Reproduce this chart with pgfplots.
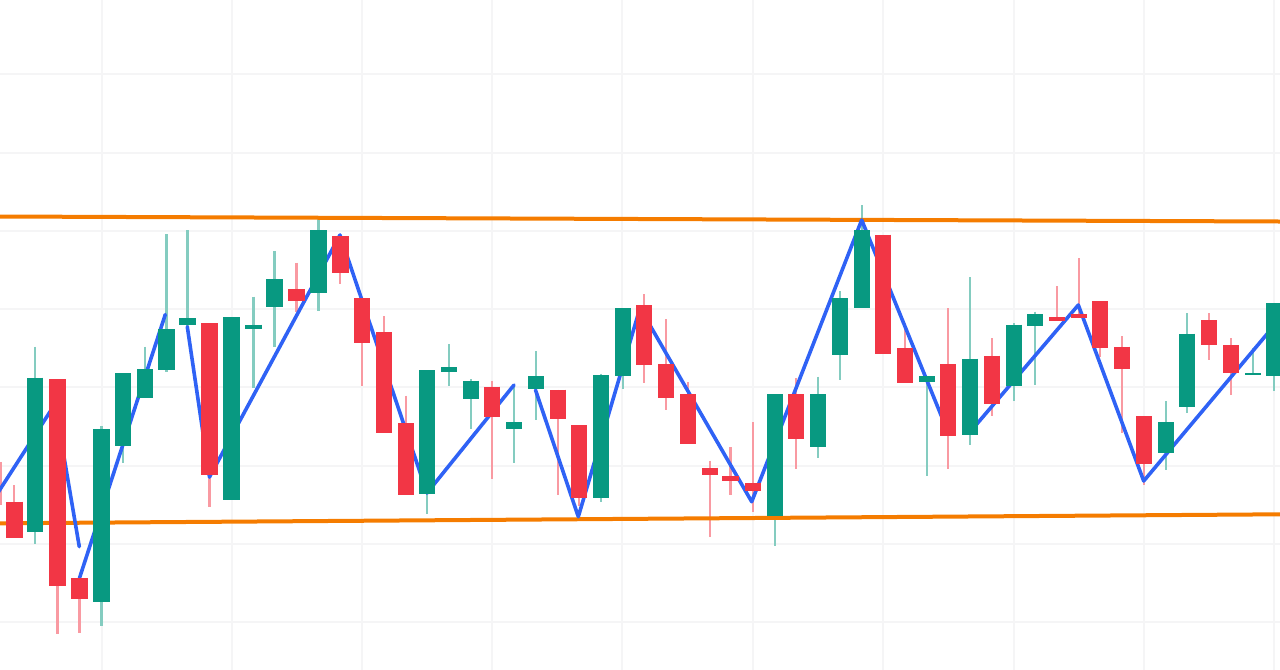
\documentclass[border=0pt]{standalone}
\usepackage{pgfplots}
\usepackage{pgfplotstable}
\pgfplotsset{compat=1.18}
\definecolor{cgreen}{HTML}{089981}
\definecolor{cred}{HTML}{F23645}
\definecolor{wgreen}{HTML}{84CCC0}
\definecolor{wred}{HTML}{F99AA2}
\definecolor{cblue}{HTML}{2F62F5}
\definecolor{corange}{HTML}{F57C00}
\definecolor{cgrid}{HTML}{F5F5F6}
% x, wick top, body top, body bottom, wick bottom (screen scale, y measured downwards)
\pgfplotstableread{
x wt bt bb wb
35.0 346.7 377.7 532.3 544.3
101.5 426.0 429.3 601.7 625.7
123.0 373.3 373.3 445.7 463.3
144.7 346.7 369.0 398.3 398.3
166.5 234.3 329.3 370.0 371.7
187.5 230.0 318.3 324.7 332.0
231.5 317.3 317.3 500.0 500.0
253.5 296.7 324.7 328.7 387.7
274.5 251.0 279.0 306.7 346.7
318.5 217.3 230.3 293.3 310.7
427.0 370.3 370.3 494.3 514.3
448.7 344.0 367.3 371.7 386.0
470.7 379.0 380.7 399.3 429.0
514.0 385.0 422.0 429.3 462.7
535.7 351.3 376.3 389.3 420.0
600.7 373.7 375.0 498.3 501.7
622.7 308.3 308.3 376.0 389.3
775.0 394.0 394.0 516.0 545.7
817.7 376.7 394.0 447.0 458.3
840.0 291.0 298.3 355.3 380.3
862.0 205.0 230.3 308.0 308.0
927.0 376.0 376.0 381.7 476.3
970.0 277.3 358.7 435.0 445.3
1014.0 323.3 324.7 386.0 401.3
1035.0 311.7 314.3 326.0 384.7
1166.0 401.3 422.3 452.7 470.3
1187.0 313.0 333.7 407.0 412.7
1253.0 348.3 373.3 374.7 374.7
1274.0 302.7 302.7 375.7 390.7
}\greentable
\pgfplotstableread{
x wt bt bb wb
0.5 462.0 480.0 480.0 505.0
14.3 485.0 501.7 538.3 538.3
57.5 379.3 379.3 585.7 634.3
79.5 578.3 578.3 599.0 632.7
209.5 323.3 323.3 475.0 507.3
296.5 262.7 289.3 300.7 312.3
340.3 236.0 236.0 272.7 284.3
361.7 298.0 298.0 343.3 386.0
383.7 316.0 332.0 433.3 433.3
405.7 395.7 423.3 495.3 495.3
492.0 380.7 386.7 417.3 479.3
557.7 389.7 389.7 419.0 495.3
579.0 425.0 425.0 498.3 505.7
644.0 294.0 305.3 365.3 383.3
666.0 319.0 364.3 398.3 410.0
688.0 382.3 394.0 443.7 443.7
710.0 460.7 467.7 475.0 536.7
730.5 447.3 476.3 480.7 495.3
753.0 422.0 482.7 491.0 511.7
795.7 378.3 394.0 439.3 468.7
883.0 234.7 234.7 353.7 353.7
905.0 323.3 348.3 383.3 383.3
948.0 308.3 364.3 436.3 468.7
992.0 338.0 355.7 404.0 416.0
1057.0 286.3 317.3 321.0 321.0
1079.0 258.3 314.3 318.3 318.3
1100.0 301.0 301.0 347.7 356.7
1122.0 336.3 346.7 368.7 433.3
1144.0 416.3 416.3 464.3 485.0
1209.0 313.0 320.3 345.0 359.7
1231.0 338.0 345.3 373.3 395.3
}\redtable
\pgfplotsset{
  wicks/.style={draw=none, mark=none, forget plot,
    error bars/.cd, y dir=plus, y explicit, error mark=none,
    error bar style={draw=#1, solid, line width=2.2bp, line cap=butt}},
  bodies/.style={draw=none, mark=none, forget plot,
    error bars/.cd, y dir=plus, y explicit, error mark=none,
    error bar style={draw=#1, solid, line width=16.4bp, line cap=butt}},
  zig/.style={cblue, line width=3.6bp, line join=round, line cap=round, mark=none, forget plot},
  trend/.style={corange, line width=4bp, mark=none, forget plot}
}
\begin{document}
\begin{tikzpicture}
\useasboundingbox (0,0) rectangle (1280bp,670bp);
\begin{axis}[
  at={(0,0)}, anchor=south west,
  width=1280bp, height=670bp, scale only axis,
  xmin=0, xmax=1280, ymin=0, ymax=670, y dir=reverse,
  axis line style={draw=none},
  major tick style={draw=none},
  xtick={101.5,231.5,361.5,491.5,622,752.5,883,1013.5,1144,1274},
  ytick={74,152.5,231,309,387,466,543.5,622},
  xticklabels={}, yticklabels={},
  grid=major,
  major grid style={cgrid, line width=2bp},
]
% wicks
\addplot[wicks=wgreen] table[x=x, y=wt, y error expr=\thisrow{wb}-\thisrow{wt}] {\greentable};
\addplot[wicks=wred] table[x=x, y=wt, y error expr=\thisrow{wb}-\thisrow{wt}] {\redtable};
% channel
\addplot[trend] coordinates {(0,216.5) (1280,221.5)};
\addplot[trend] coordinates {(0,523.3) (1280,514.3)};
% zigzag, broken into its runs
\addplot[zig] coordinates {(-10,505) (55,404) (79.3,546.7)};
\addplot[zig] coordinates {(79.5,578) (165.3,314.5)};
\addplot[zig] coordinates {(187.3,326.7) (209.5,477) (340,235) (427,493) (514,385)};
\addplot[zig] coordinates {(535.5,390) (578.3,516.7) (640,308) (751.7,501.7) (861.7,220) (948.7,434)};
\addplot[zig] coordinates {(970,432) (1078.3,305) (1143.7,481) (1274.6,325)};
% bodies
\addplot[bodies=cgreen] table[x=x, y=bt, y error expr=\thisrow{bb}-\thisrow{bt}] {\greentable};
\addplot[bodies=cred] table[x=x, y=bt, y error expr=\thisrow{bb}-\thisrow{bt}] {\redtable};
\end{axis}
\end{tikzpicture}
\end{document}
